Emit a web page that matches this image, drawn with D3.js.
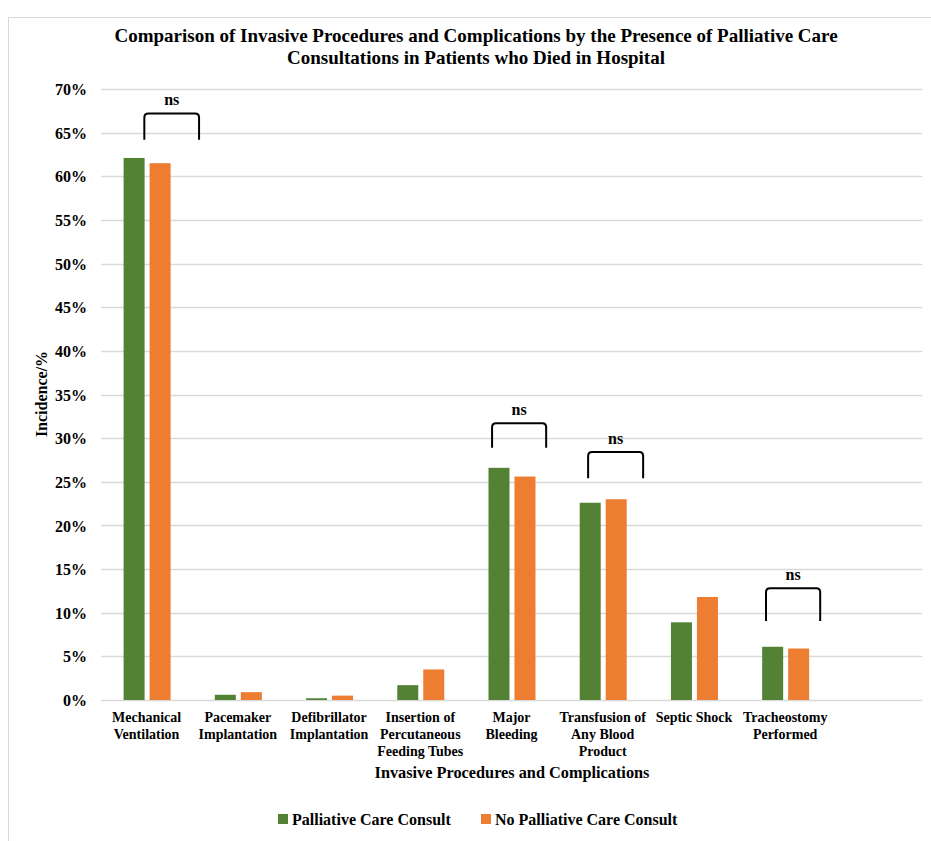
<!DOCTYPE html>
<html>
<head>
<meta charset="utf-8">
<script src="https://cdn.jsdelivr.net/npm/d3@7"></script>
<style>
  html, body { margin: 0; padding: 0; background: #fff; }
  svg { display: block; }
  text { font-family: "Liberation Serif", "Times New Roman", serif; font-weight: bold; fill: #000; }
</style>
</head>
<body>
<script>
// ---- Data ----
const titleLines = ["Comparison of Invasive Procedures and Complications by the Presence of Palliative Care",
                    "Consultations in Patients who Died in Hospital"];
const categories = ["Mechanical Ventilation", "Pacemaker Implantation", "Defibrillator Implantation",
  "Insertion of Percutaneous Feeding Tubes", "Major Bleeding", "Transfusion of Any Blood Product",
  "Septic Shock", "Tracheostomy Performed"];
const categoryLines = [
  ["Mechanical", "Ventilation"],
  ["Pacemaker", "Implantation"],
  ["Defibrillator", "Implantation"],
  ["Insertion of", "Percutaneous", "Feeding Tubes"],
  ["Major", "Bleeding"],
  ["Transfusion of", "Any Blood", "Product"],
  ["Septic Shock"],
  ["Tracheostomy", "Performed"]
];
const seriesNames = ["Palliative Care Consult", "No Palliative Care Consult"];
const palliative = [62.1, 0.6, 0.2, 1.7, 26.6, 22.6, 8.9, 6.1];
const noPalliative = [61.5, 0.9, 0.5, 3.5, 25.6, 23.0, 11.8, 5.9];
const yTicks = [0, 5, 10, 15, 20, 25, 30, 35, 40, 45, 50, 55, 60, 65, 70];
// significance brackets: category index, x start/end as fraction of band (1 band = one category slot), top and bottom in %
const bracketCats = [0, 4, 5, 7];
const bracketX0 = [0.475, 0.287, 0.34, 0.29];
const bracketX1 = [1.075, 0.88, 0.943, 0.884];
const bracketTop = [67.2, 31.7, 28.4, 12.8];
const bracketBottom = [64.2, 28.9, 25.4, 9.05];
const bracketLabel = ["ns", "ns", "ns", "ns"];

const colors = ["#548235", "#ED7D31"];

// ---- Layout ----
const W = 931, H = 841;
const plotLeft = 101, plotRight = 922, plotTop = 89, plotBottom = 700;
const svg = d3.select("body").append("svg").attr("width", W).attr("height", H);

// outer chart border
svg.append("rect").attr("x", 8.5).attr("y", 17.5).attr("width", 940).attr("height", 840)
  .attr("fill", "none").attr("stroke", "#D9D9D9").attr("stroke-width", 1);

const step = (plotRight - plotLeft) / 9;
const x = d3.scaleBand().domain(categories).range([plotLeft, plotLeft + step * categories.length]).padding(0);
const xSub = d3.scaleBand().domain(seriesNames).range([22.6, 69.6]).paddingInner(0.192).paddingOuter(0);
const y = d3.scaleLinear().domain([0, 70]).range([plotBottom, plotTop]);

// title
svg.append("g").selectAll("text").data(titleLines).join("text")
  .attr("x", 476).attr("y", (d, i) => 42 + i * 22)
  .attr("text-anchor", "middle").style("font-size", "19px").text(d => d);

// gridlines
svg.append("g").selectAll("line").data(yTicks).join("line")
  .attr("x1", plotLeft).attr("x2", plotRight)
  .attr("y1", d => Math.round(y(d)) + 0.5).attr("y2", d => Math.round(y(d)) + 0.5)
  .attr("stroke", "#D9D9D9").attr("stroke-width", 1.3);

// y axis labels
const yAxis = d3.axisLeft(y).tickValues(yTicks).tickSize(0).tickPadding(0).tickFormat(d => d + "%");
const yg = svg.append("g").attr("transform", `translate(87,0)`).call(yAxis);
yg.select(".domain").remove();
yg.selectAll("text").style("font-size", "16px").style("font-family", "Liberation Serif").style("font-weight", "bold").attr("dy", "0.35em");

// bars
const groups = svg.append("g").selectAll("g").data(categories).join("g")
  .attr("transform", d => `translate(${x(d)},0)`);
groups.selectAll("rect").data((d, i) => [
    {s: seriesNames[0], v: palliative[i], c: colors[0]},
    {s: seriesNames[1], v: noPalliative[i], c: colors[1]}])
  .join("rect")
  .attr("x", d => xSub(d.s)).attr("width", xSub.bandwidth())
  .attr("y", d => y(d.v)).attr("height", d => y(0) - y(d.v))
  .attr("fill", d => d.c);

// category labels
const catG = svg.append("g").selectAll("text").data(categories).join("text")
  .attr("x", d => x(d) + x.bandwidth() / 2).attr("y", 722)
  .attr("text-anchor", "middle").style("font-size", "14px");
catG.each(function(d, i) {
  d3.select(this).selectAll("tspan").data(categoryLines[i]).join("tspan")
    .attr("x", x(d) + x.bandwidth() / 2).attr("dy", (t, j) => j === 0 ? 0 : 17).text(t => t);
});

// axis titles
svg.append("text").attr("x", 512).attr("y", 778).attr("text-anchor", "middle")
  .style("font-size", "16.3px").text("Invasive Procedures and Complications");
svg.append("text").attr("transform", "translate(47,394) rotate(-90)").attr("text-anchor", "middle")
  .style("font-size", "16px").text("Incidence/%");

// brackets
const r = 4;
bracketCats.forEach((ci, k) => {
  const bx = x(categories[ci]);
  const x0 = bx + bracketX0[k] * step, x1 = bx + bracketX1[k] * step;
  const yt = y(bracketTop[k]), yb = y(bracketBottom[k]);
  const p = d3.path();
  p.moveTo(x0, yb);
  p.lineTo(x0, yt + r);
  p.quadraticCurveTo(x0, yt, x0 + r, yt);
  p.lineTo(x1 - r, yt);
  p.quadraticCurveTo(x1, yt, x1, yt + r);
  p.lineTo(x1, yb);
  svg.append("path").attr("d", p.toString()).attr("fill", "none").attr("stroke", "#000").attr("stroke-width", 2);
  svg.append("text").attr("x", (x0 + x1) / 2).attr("y", yt - 8).attr("text-anchor", "middle")
    .style("font-size", "16px").text(bracketLabel[k]);
});

// legend
const legendX = [278, 481];
const lg = svg.append("g").selectAll("g").data(seriesNames).join("g")
  .attr("transform", (d, i) => `translate(${legendX[i]},819)`);
lg.append("rect").attr("x", 0).attr("y", -5).attr("width", 10).attr("height", 10).attr("fill", (d, i) => colors[i]);
lg.append("text").attr("x", 14).attr("y", 5.5).style("font-size", "16px").text(d => d);
</script>
</body>
</html>
